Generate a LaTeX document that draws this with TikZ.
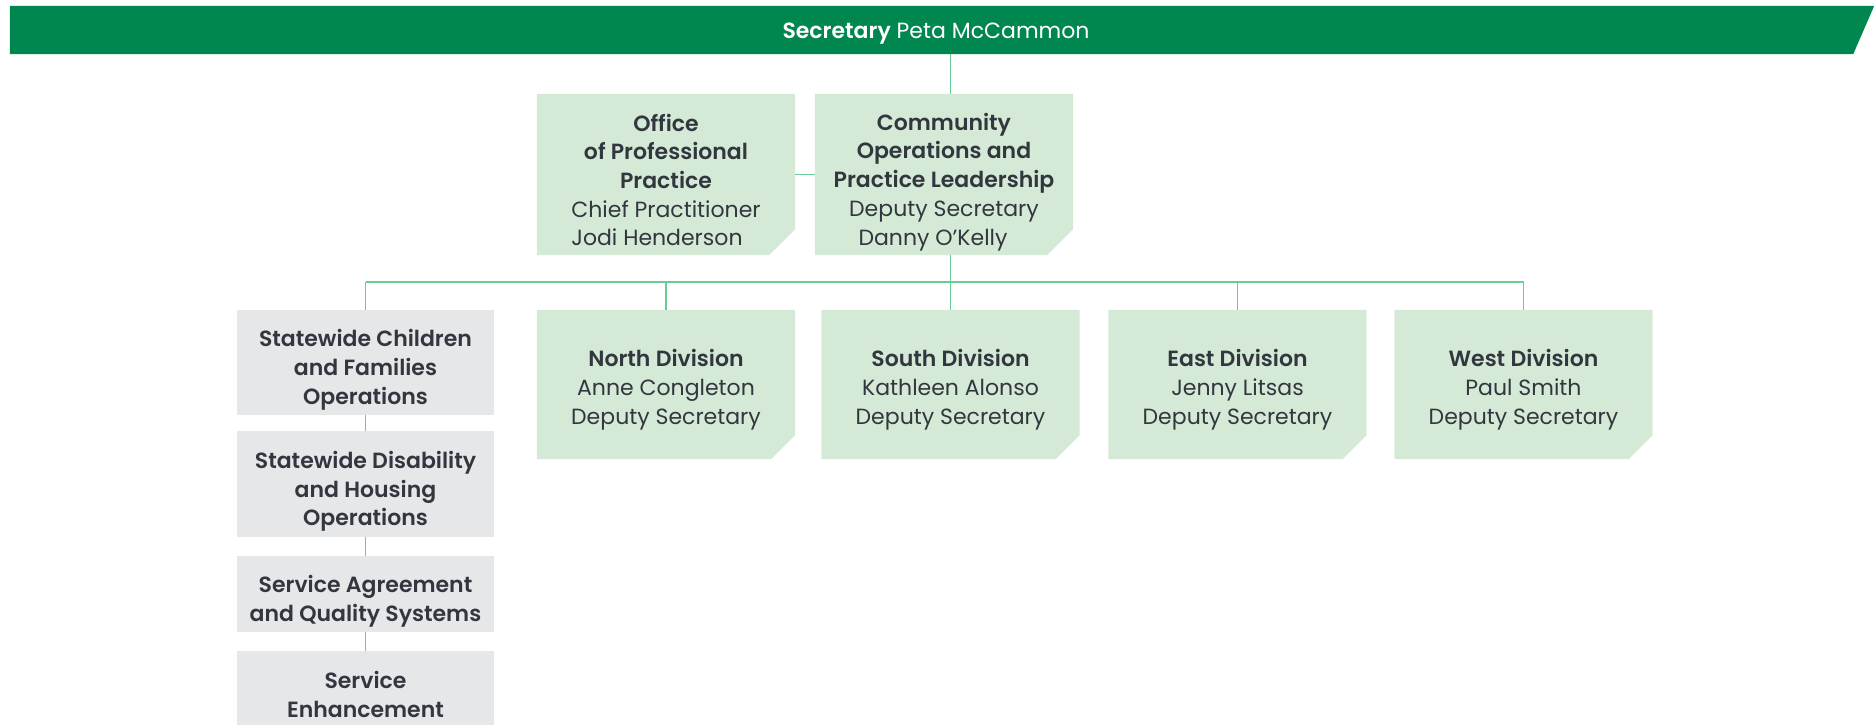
\documentclass[tikz,border=0pt]{standalone}
\usepackage{fontspec}
\usepackage{calc}
\setmainfont{Poppins}[BoldFont={Poppins SemiBold}]
\usetikzlibrary{backgrounds}
\definecolor{bargreen}{RGB}{0,135,80}
\definecolor{boxgreen}{RGB}{213,234,214}
\definecolor{boxgrey}{RGB}{230,231,232}
\definecolor{linkgreen}{RGB}{102,206,148}
\definecolor{txt}{RGB}{50,55,63}
\newcommand{\dn}{\rule{0pt}{28pt}}
\newcommand{\dnn}{\rule{0pt}{32pt}}
\tikzset{
  org/.style={minimum width=258pt, inner sep=0pt, align=center, text=txt,
    font=\fontsize{22}{28.7}\selectfont},
  greenbox/.style={org},
  greybox/.style={org, fill=boxgrey},
  link/.style={draw=linkgreen, line width=1.3pt},
}
\newcommand{\cutfill}[2]{\fill[boxgreen] (#1.north west) -- (#1.north east) -- ([yshift=#2]#1.south east) -- ([xshift=-#2]#1.south east) -- (#1.south west) -- cycle;}
\begin{document}
\begin{tikzpicture}[x=1pt,y=-1pt]
\useasboundingbox (0,0) rectangle (1874,725);
\clip (0,0) rectangle (1874,725);
% top bar
\node[minimum width=1852pt, minimum height=48pt, inner sep=0pt, text=white,
  font=\fontsize{22}{26}\selectfont] (bar) at (936,30) {\rule{0pt}{23pt}\textbf{Secretary} Peta McCammon};
% second level
\node[greenbox, minimum height=161pt] (off) at (666,174.5)
  {\dn\textbf{Office}\\\textbf{of Professional}\\\textbf{Practice}\\Chief Practitioner\\\makebox[\widthof{Chief Practitioner}][l]{Jodi Henderson}};
\node[greenbox, minimum height=161pt] (comm) at (944,174.5)
  {\dnn\textbf{Community}\\\textbf{Operations and}\\\textbf{Practice Leadership}\\Deputy Secretary\\Danny O’Kelly\hspace*{22pt}};
% divisions
\node[greenbox, minimum height=149pt] (north) at (666,384.5)
  {\dn\textbf{North Division}\\Anne Congleton\\Deputy Secretary};
\node[greenbox, minimum height=149pt] (south) at (950.5,384.5)
  {\dn\textbf{South Division}\\Kathleen Alonso\\Deputy Secretary};
\node[greenbox, minimum height=149pt] (east) at (1237.5,384.5)
  {\dn\textbf{East Division}\\Jenny Litsas\\Deputy Secretary};
\node[greenbox, minimum height=149pt] (west) at (1523.5,384.5)
  {\dn\textbf{West Division}\\Paul Smith\\Deputy Secretary};
% left column
\node[greybox, minimum width=257pt, minimum height=105pt] (sc) at (365.5,362.5)
  {\dnn\textbf{Statewide Children}\\\textbf{and Families}\\\textbf{Operations}};
\node[greybox, minimum width=257pt, minimum height=106pt] (sd) at (365.5,484)
  {\dnn\textbf{Statewide Disability}\\\textbf{and Housing}\\\textbf{Operations}};
\node[greybox, minimum width=257pt, minimum height=76pt] (sa) at (365.5,594)
  {\dnn\textbf{Service Agreement}\\\textbf{and Quality Systems}};
\node[greybox, minimum width=257pt, minimum height=76pt] (se) at (365.5,689)
  {\dn\textbf{Service}\\\textbf{Enhancement}};
\begin{scope}[on background layer]
  \fill[bargreen] (bar.north west) -- ([xshift=12pt]bar.north east) -- ([xshift=-9pt]bar.south east) -- (bar.south west) -- cycle;
  \cutfill{off}{26pt}
  \cutfill{comm}{26pt}
  \cutfill{north}{24pt}
  \cutfill{south}{24pt}
  \cutfill{east}{24pt}
  \cutfill{west}{24pt}
  % connectors
  \coordinate (bus) at (0,282);
  \draw[link] (comm.north -| south.north) -- (south.north |- bar.south);
  \draw[link] (off.east) -- (comm.west);
  \draw[link] (south.north |- comm.south) -- (south.north);
  \draw[link] (sc.north |- bus) -- (west.north |- bus);
  \draw[link] (sc.north |- bus) -- (sc.north);
  \draw[link] (north.north |- bus) -- (north.north);
  \draw[link] (east.north |- bus) -- (east.north);
  \draw[link] (west.north |- bus) -- (west.north);
  \draw[link] (sc.south) -- (sd.north);
  \draw[link] (sd.south) -- (sa.north);
  \draw[link] (sa.south) -- (se.north);
\end{scope}
\end{tikzpicture}
\end{document}
